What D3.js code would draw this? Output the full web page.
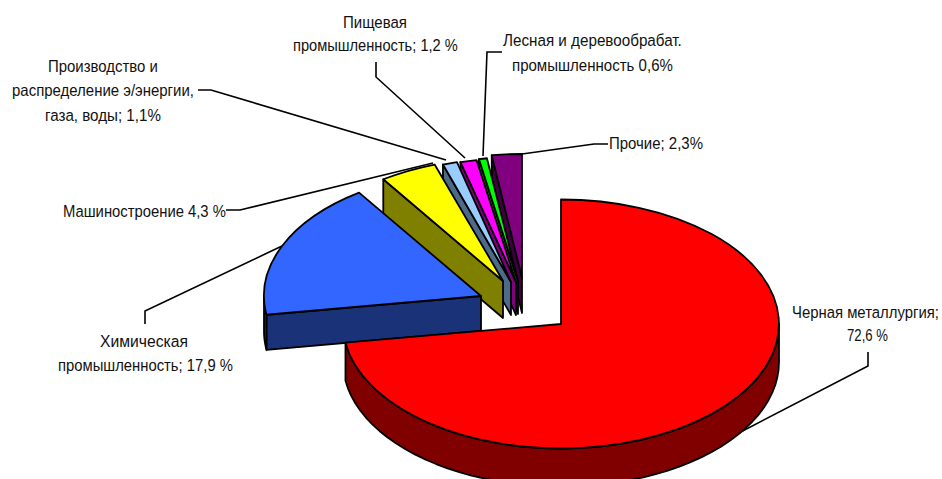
<!DOCTYPE html>
<html>
<head>
<meta charset="utf-8">
<script src="https://cdn.jsdelivr.net/npm/d3@7/dist/d3.min.js"></script>
<style>
html,body{margin:0;padding:0;background:#fff;overflow:hidden}
text{font-family:"Liberation Sans",Arial,sans-serif;font-size:16.5px;fill:#111}
</style>
</head>
<body>
<div id="chart"></div>
<script>
// ---- data ----
const categories = ["Черная металлургия","Химическая промышленность","Машиностроение","Производство и распределение э/энергии, газа, воды","Пищевая промышленность","Лесная и деревообрабат. промышленность","Прочие"];
const values = [72.6,17.9,4.3,1.1,1.2,0.6,2.3];
const labelLines = [
  ["Черная металлургия;","72,6 %"],
  ["Химическая","промышленность; 17,9 %"],
  ["Машиностроение 4,3 %"],
  ["Производство и","распределение э/энергии,","газа, воды; 1,1%"],
  ["Пищевая","промышленность; 1,2 %"],
  ["Лесная и деревообрабат.","промышленность 0,6%"],
  ["Прочие; 2,3%"]
];
const topColors  = ["#ff0000","#3366ff","#ffff00","#99ccff","#ff00ff","#00ff00","#800080"];
const wallColors = ["#800000","#1a3278","#808000","#4d6a87","#800080","#008000","#400040"];

// ---- layout ----
const W = 942, H = 479;
const apexX = [561,481,503,511,516,518,522];
const apexY = [324,296,281,282,282,281,278];
const radX  = [218,217,213,212,218,216,210];
const radY  = [124.5,125,123,124,124,124,124];
const depth = [38,35,37,33,33,33,35];
const leaders = [
  [[868,352],[868,366],[733,436]],
  [[145,324],[145,311],[282,246]],
  [[226,210],[240,210],[433,163]],
  [[198,90],[211,90],[446,160]],
  [[376,62],[376,77],[465,158]],
  [[502,52],[487,52],[483,156]],
  [[608,144],[594,144],[522,154]]
];
// [left x, right x, baseline y] for every text line
const labelBoxes = [
  [[792,939,318],[847,888,341]],
  [[100,188,347],[58,233,371]],
  [[63,226,217]],
  [[48,158,72],[12,194,96],[45,161,121]],
  [[343,407,28],[293,458,51]],
  [[503,682,46],[512,673,71]],
  [[609,703,149]]
];

const svg = d3.select("#chart").append("svg").attr("width",W).attr("height",H).style("display","block");
const pieData = d3.pie().sort(null).value(d=>d)(values);
const arcGen = d3.arc().innerRadius(0).outerRadius(1);
const line = d3.line();
const strokeW = 1.8;

// leader lines, underneath the slices
svg.append("g").selectAll("path").data(leaders).join("path")
  .attr("d",d=>line(d)).attr("fill","none").attr("stroke","#000").attr("stroke-width",1.6);

const pt = (i,a,dz=0)=>[apexX[i]+radX[i]*Math.sin(a), apexY[i]-radY[i]*Math.cos(a)+dz];
const sweep = (i,a0,a1,dz)=>d3.range(0,49).map(k=>pt(i,a0+(a1-a0)*k/48,dz));

// drawn back to front: last slice first, the big one last
d3.range(values.length-1,-1,-1).forEach(i=>{
  const d = pieData[i], g = svg.append("g"), dz = depth[i];
  const wall = pts=>g.append("path").attr("d",line(pts)+"Z")
    .attr("fill",wallColors[i]).attr("stroke","#000").attr("stroke-width",strokeW).attr("stroke-linejoin","round");
  const apex = [apexX[i],apexY[i]];
  // side wall on the slice's starting radius (visible unless it is the first slice)
  if (i>0){
    const e = pt(i,d.startAngle);
    wall([apex,e,[e[0],e[1]+dz],[apex[0],apex[1]+dz]]);
  }
  // outer curved wall: the front half of the ellipse
  const lo = Math.max(d.startAngle,Math.PI/2), hi = Math.min(d.endAngle,3*Math.PI/2);
  if (hi>lo) wall(sweep(i,lo,hi,0).concat(sweep(i,hi,lo,dz)));
  // top face
  g.append("path").attr("d",arcGen(d))
    .attr("transform",`translate(${apexX[i]},${apexY[i]}) scale(${radX[i]},${radY[i]})`)
    .attr("fill",topColors[i]).attr("stroke","#000").attr("stroke-width",strokeW)
    .attr("stroke-linejoin","round").attr("vector-effect","non-scaling-stroke");
});

// labels: each line is squeezed horizontally to the width it has in the picture
labelLines.forEach((lines,i)=>{
  lines.forEach((t,j)=>{
    const b = labelBoxes[i][j];
    const el = svg.append("text").text(t);
    const natural = el.node().getComputedTextLength();
    el.attr("transform",`translate(${b[0]},${b[2]}) scale(${(b[1]-b[0])/natural},1)`);
  });
});
</script>
</body>
</html>
